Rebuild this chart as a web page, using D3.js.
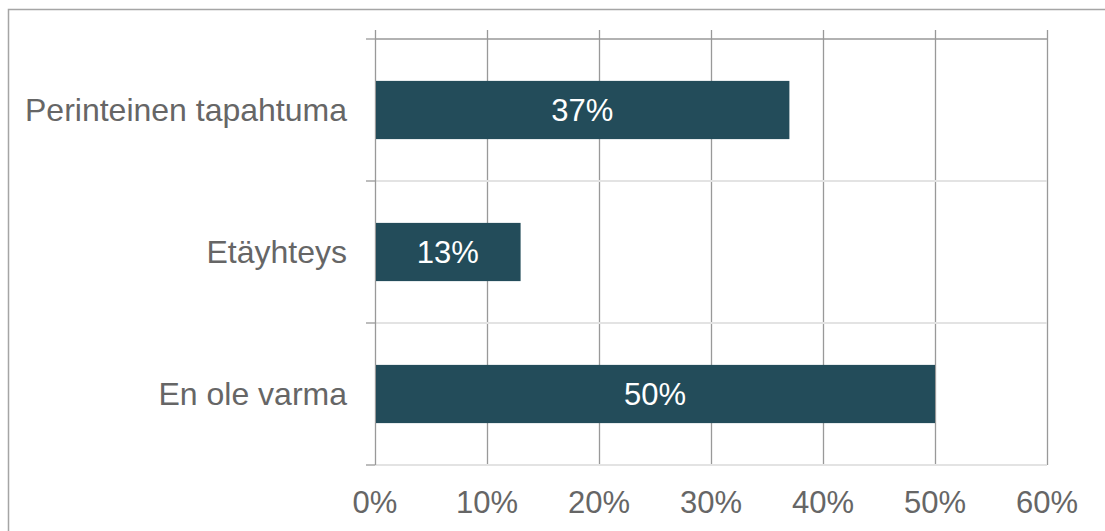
<!DOCTYPE html>
<html><head><meta charset="utf-8">
<script src="https://cdn.jsdelivr.net/npm/d3@7"></script>
<style>html,body{margin:0;padding:0;background:#fff;}svg{display:block;}</style>
</head><body>
<svg id="c" width="1105" height="531"></svg>
<script>
const categories = ["Perinteinen tapahtuma", "Etäyhteys", "En ole varma"];
const values = [0.37, 0.13, 0.50];
const xTicks = [0, 0.1, 0.2, 0.3, 0.4, 0.5, 0.6];

const svg = d3.select("#c");
const font = "'Liberation Sans', Arial, sans-serif";
const L = 375, R = 1047, T = 39, B = 465;

// outer border
svg.append("rect").attr("x", 8.5).attr("y", 9.5).attr("width", 1110).attr("height", 540)
  .attr("fill", "none").attr("stroke", "#a5a5a5").attr("stroke-width", 1.5);

const x = d3.scaleLinear().domain([0, 0.6]).range([L, R]);
const y = d3.scaleBand().domain(categories).range([T, B]).paddingInner(0.59).paddingOuter(0.295);
const yb = d3.scaleBand().domain(categories).range([T, B]);

// vertical gridlines
svg.append("g").selectAll("line").data(xTicks.slice(1)).join("line")
  .attr("x1", d => Math.round(x(d)) + 0.5).attr("x2", d => Math.round(x(d)) + 0.5)
  .attr("y1", 30).attr("y2", B)
  .attr("stroke", "#999").attr("stroke-width", 1.3);

// category separators
const seps = categories.map(c => yb(c)).concat([B]);
svg.append("g").selectAll("line").data(seps.slice(1)).join("line")
  .attr("x1", L).attr("x2", R)
  .attr("y1", d => d).attr("y2", d => d)
  .attr("stroke", "#e3e3e3").attr("stroke-width", 2);
svg.append("line").attr("x1", L).attr("x2", R).attr("y1", T).attr("y2", T)
  .attr("stroke", "#999").attr("stroke-width", 1.3);

// left axis line and ticks
svg.append("line").attr("x1", L + 0.5).attr("x2", L + 0.5).attr("y1", 30).attr("y2", B)
  .attr("stroke", "#999").attr("stroke-width", 1.3);
svg.append("g").selectAll("line").data(seps).join("line")
  .attr("x1", 366).attr("x2", L).attr("y1", d => d).attr("y2", d => d)
  .attr("stroke", "#999").attr("stroke-width", 1.3);

// bars
svg.append("g").selectAll("rect").data(values).join("rect")
  .attr("x", L + 1).attr("y", (d, i) => y(categories[i]))
  .attr("width", d => x(d) - L - 1).attr("height", y.bandwidth())
  .attr("fill", "#234c5a");

// bar labels
svg.append("g").selectAll("text").data(values).join("text")
  .attr("x", d => (L + x(d)) / 2)
  .attr("y", (d, i) => yb(categories[i]) + yb.bandwidth() / 2 + 11)
  .attr("text-anchor", "middle").attr("fill", "#fff")
  .style("font-family", font).style("font-size", "31px")
  .text(d => Math.round(d * 100) + "%");

// category labels
svg.append("g").selectAll("text").data(categories).join("text")
  .attr("x", 347).attr("y", d => yb(d) + yb.bandwidth() / 2 + 11)
  .attr("text-anchor", "end").attr("fill", "#666")
  .style("font-family", font).style("font-size", "32px")
  .text(d => d);

// x tick labels
svg.append("g").selectAll("text").data(xTicks).join("text")
  .attr("x", d => x(d)).attr("y", 513)
  .attr("text-anchor", "middle").attr("fill", "#666")
  .style("font-family", font).style("font-size", "31px")
  .text(d => Math.round(d * 100) + "%");
</script>
</body></html>
